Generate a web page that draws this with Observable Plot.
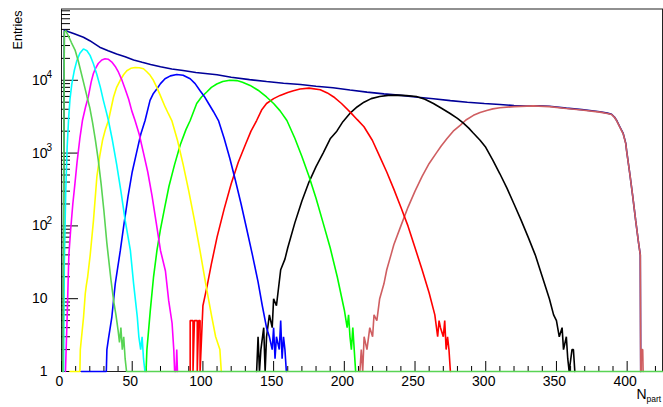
<!DOCTYPE html>
<html><head><meta charset="utf-8">
<script src="https://cdn.jsdelivr.net/npm/d3@7"></script>
<script src="https://cdn.jsdelivr.net/npm/@observablehq/plot@0.6"></script>
<style>body{margin:0;background:#fff} #chart svg{display:block}</style>
</head><body><div id="chart"></div>
<script>
// ---- tick values / labels ----
const xMajor = [0, 50, 100, 150, 200, 250, 300, 350, 400];
const xMinor = [10,20,30,40,60,70,80,90,110,120,130,140,160,170,180,190,210,220,230,240,260,270,280,290,310,320,330,340,360,370,380,390,410,420];
const yMajor = [1, 10, 100, 1000, 10000];
const yBase = ["1", "10", "10", "10", "10"];
const yExp = ["", "", "2", "3", "4"];
const yMinor = [2,3,4,5,6,7,8,9,20,30,40,50,60,70,80,90,200,300,400,500,600,700,800,900,2000,3000,4000,5000,6000,7000,8000,9000,20000,30000,40000,50000,60000,70000,80000,90000];

// ---- histogram series: [Npart, entries] ----
const total = [[1,1],[2,49000],[5,46500],[9,43500],[15.5,39000],[20,35000],[27,28500],[33,25500],[39,23000],[45,21000],[51,19000],[57,17700],[63,16500],[70,15300],[78,14300],[86,13600],[95,12800],[110,11900],[120,11000],[133,10200],[145,9600],[157,9100],[169,8750],[180,8300],[192,7900],[204,7350],[216,6870],[228,6500],[240,6200],[252,5850],[263,5570],[275,5250],[287,5000],[299,4800],[310,4650],[320,4500],[329,4420],[338,4460],[345,4400],[357,4150],[368,3950],[380.7,3700],[386,3540],[389,3420],[391,3130],[392.5,2830],[394.8,2300],[397.2,1860],[399,1370],[399.6,1090],[402,500],[404,250],[406,120],[408,60],[409.3,40],[409.6,1]];
const class1 = [[1,1],[2,46000],[3,48000],[5,40000],[7,33000],[9.6,26000],[12,18000],[15.5,9500],[18,6000],[20,4200],[22,2600],[24,1500],[26,800],[28,380],[30,160],[32,60],[33,40],[35,18],[37,9],[38.5,6],[40,3.7],[41,2.5],[42,4],[43,2],[44,3],[45,1.5],[46,1],[425,1]];
const class2 = [[1.5,1],[2,30],[3,300],[4,1200],[5,2900],[6,5500],[7.3,8900],[9,13500],[10.8,18500],[13,23500],[15.5,27000],[18,25500],[20.2,22000],[22.5,17000],[25,12000],[27.5,8000],[29.6,5300],[31.5,3800],[33.2,2800],[36,1500],[39,700],[42,300],[45,120],[48.7,46],[51,16],[53.6,5.6],[54.7,3],[56,2],[57,3],[58,1.5],[59,1]];
const class3 = [[2.8,1],[4,5.6],[5.2,40],[6.5,90],[8,200],[9.5,380],[11,750],[13,1600],[14.8,2800],[17,4300],[19,6000],[21,9500],[22.5,12300],[24,14500],[26,17000],[28.5,19000],[30.8,19800],[33,19500],[35.6,17800],[38,15500],[40.3,12900],[42.5,10300],[45,7600],[47.5,5500],[49.7,3800],[52,2800],[55,1800],[58,1000],[61,550],[64,260],[67,110],[70,46],[73.5,24],[75.8,9.4],[78.2,4.6],[79.4,2],[80,1],[81,1],[81.5,2],[82,1]];
const class4 = [[6,1],[13,1],[13.3,2],[15.6,5.6],[16.8,11.7],[17.5,15],[18.5,20],[20.3,40],[22.6,118],[25,470],[27,900],[29,1500],[31,2100],[33.2,2800],[36.8,5900],[39,8000],[41.5,10000],[44,12000],[46.2,13500],[49,14600],[52.1,15000],[55,14900],[58,14400],[60.5,13000],[62.7,11700],[65,10000],[67.4,8000],[70,6100],[73.3,4300],[75.5,3500],[78,2800],[82,1500],[86,700],[90,300],[94,120],[98,45],[102,16],[106,6],[109,3],[112,2],[113,1]];
const class5 = [[14,1],[31.7,1],[32.1,2],[33.2,2.8],[35.6,5.6],[38,16],[41.6,46],[44,100],[47,250],[50,550],[53,1000],[56,1800],[59.1,2800],[62.6,5300],[65,6600],[67.4,7600],[70,9000],[73.2,10500],[77,11500],[81.5,12000],[86,11700],[91,10500],[94.5,9000],[98,7200],[101,6000],[104,4800],[107.5,3700],[111,2800],[115,1600],[119,850],[123,420],[127,200],[131,90],[135,40],[139,17],[142,8],[145,4],[147,3],[149,2],[150,4],[151,1.5],[152,3],[154,2],[155,5],[156,1.5],[157,3],[158,2],[159,1]];
const class6 = [[59.8,1],[60.4,2],[61.6,3.7],[62.8,6.9],[65.1,20],[67.5,46],[70,90],[73,180],[76,350],[80,700],[84,1300],[88,2100],[91,2800],[95.6,4800],[99,5900],[102.7,6900],[106,8000],[109.8,8900],[114,9600],[119,10000],[124,9900],[128,9400],[133.4,8500],[139,7300],[145,5900],[150,4800],[154.6,3800],[159.4,2800],[165,1600],[170,900],[175,480],[180,240],[185,110],[190,50],[195,20],[200,7],[202,4],[203,6],[204,3],[205,2],[206,4],[207,2],[208,1]];
const class7 = [[91,1],[91,5],[93,5],[93,1],[94,5],[96,5],[96,1],[97,5],[98,5],[98,1],[100,8],[103,15],[106,30],[110,70],[115,170],[120,380],[125,750],[130,1300],[134,2000],[138,2800],[141.5,3900],[145,4800],[150,5600],[154.6,6200],[160,6800],[164,7200],[168.7,7600],[175,7800],[183,7400],[188,6700],[192.5,5900],[198,4800],[204.5,3600],[209,2900],[213.9,2300],[219.8,1500],[225,900],[230,550],[235,320],[240,180],[245,100],[250,50],[255,25],[260,12],[264,6],[266,3],[267,5],[268,4],[270,3],[271,5],[272,2],[273,3],[274,2],[275,1]];
const class8 = [[138,1],[139,3],[140,1],[141,2],[143,4],[144,1],[145,3],[147,6],[149,4],[150,10],[152,8],[155,25],[158,35],[160,50],[165,110],[170,220],[175,400],[180,650],[185,1000],[190,1570],[194.7,2000],[199,2700],[204.5,3600],[209,4300],[213.9,5000],[219,5600],[225,6000],[231,6200],[237,6250],[244,6150],[251,6000],[257,5500],[263,4800],[269,4100],[274.8,3500],[280,3000],[284,2600],[288,2200],[291,1900],[296,1500],[300,1200],[305,800],[310,520],[315,330],[320,200],[325,120],[330,70],[335,40],[340,20],[345,10],[348,6],[350,5],[352,3],[354,4],[355,2],[357,3],[358,1.5],[359,1],[361,2],[362,2],[363,1]];
const class9 = [[211,1],[212,2],[213,1],[214,3],[216,2],[218,4],[220,3],[221,6],[223,5],[225,10],[228,16],[230,25],[233,40],[235,55],[240,100],[245,180],[250,300],[255,480],[260,720],[265,1000],[268.5,1250],[272.5,1570],[277,2000],[281.9,2400],[286,2850],[291.3,3300],[296,3600],[300.7,3850],[305,4050],[310,4200],[320,4350],[333.6,4450],[345,4350],[357,4100],[368,3900],[380.7,3650],[386,3500],[389,3390],[391,3100],[392.5,2800],[394.8,2270],[397.2,1840],[399,1350],[399.6,1080],[402,500],[404,250],[406,120],[408,60],[409.3,40],[409.6,1],[410,1],[410,2],[411,2],[411.3,1]];

const seriesColors = ["#000099", "#cf5e61", "#000000", "#ff0000", "#00ff00", "#0000ff", "#ffff00", "#ff00ff", "#00ffff", "#59d454"];
const seriesData = [total, class9, class8, class7, class6, class5, class4, class3, class2, class1];

const W = 663, H = 407, mL = 61, mR = 1, mT = 8.5, mB = 36;
const frameW = W - mL - mR, frameH = H - mT - mB;
const font = "'Liberation Sans', Arial, Helvetica, sans-serif";

const histMarks = seriesData.map((s, i) =>
  Plot.line(s, {x: d => d[0], y: d => d[1], stroke: seriesColors[i], strokeWidth: 1.6, strokeLinejoin: "miter"})
);

const chart = Plot.plot({
  width: W, height: H,
  marginLeft: mL, marginRight: mR, marginTop: mT, marginBottom: mB,
  style: {fontFamily: font, fontSize: "14px", background: "white", color: "black"},
  x: {domain: [0, 425], axis: null},
  y: {type: "log", domain: [1, 95300], axis: null},
  marks: [
    Plot.frame({stroke: "#222", strokeWidth: 1}),
    Plot.tickY(yMajor, {y: d => d, insetRight: frameW - 17, stroke: "black", strokeWidth: 1}),
    Plot.tickY(yMinor, {y: d => d, insetRight: frameW - 9, stroke: "black", strokeWidth: 1}),
    Plot.tickX(xMajor, {x: d => d, insetTop: frameH - 10, stroke: "black", strokeWidth: 1}),
    Plot.tickX(xMinor, {x: d => d, insetTop: frameH - 5, stroke: "black", strokeWidth: 1}),
    ...histMarks,
    Plot.axisX({ticks: xMajor, tickSize: 0, tickPadding: 5, dx: -2, tickFormat: d => String(d), label: null, fontSize: 14}),
    Plot.axisY({ticks: yMajor, tickSize: 0, tickPadding: 14, tickFormat: d => yBase[yMajor.indexOf(d)], label: null, fontSize: 14, ariaLabel: "y-labels"}),
    Plot.text(yMajor.filter((d, i) => yExp[i]), {x: 0, y: d => d, text: d => yExp[yMajor.indexOf(d)], textAnchor: "start", lineAnchor: "middle", dx: -15, dy: -5, fontSize: 10}),
    Plot.text(["Entries"], {frameAnchor: "top-left", text: d => d, rotate: -90, textAnchor: "end", lineAnchor: "middle", dx: -44, dy: 1.5, fontSize: 12.5}),
    Plot.text(["N"], {frameAnchor: "bottom-right", text: d => d, textAnchor: "start", lineAnchor: "middle", dx: -26, dy: 23, fontSize: 14}),
    Plot.text(["part"], {frameAnchor: "bottom-right", text: d => d, textAnchor: "start", lineAnchor: "middle", dx: -16, dy: 28, fontSize: 8.5})
  ]
});
document.getElementById("chart").appendChild(chart);
</script>
</body></html>
